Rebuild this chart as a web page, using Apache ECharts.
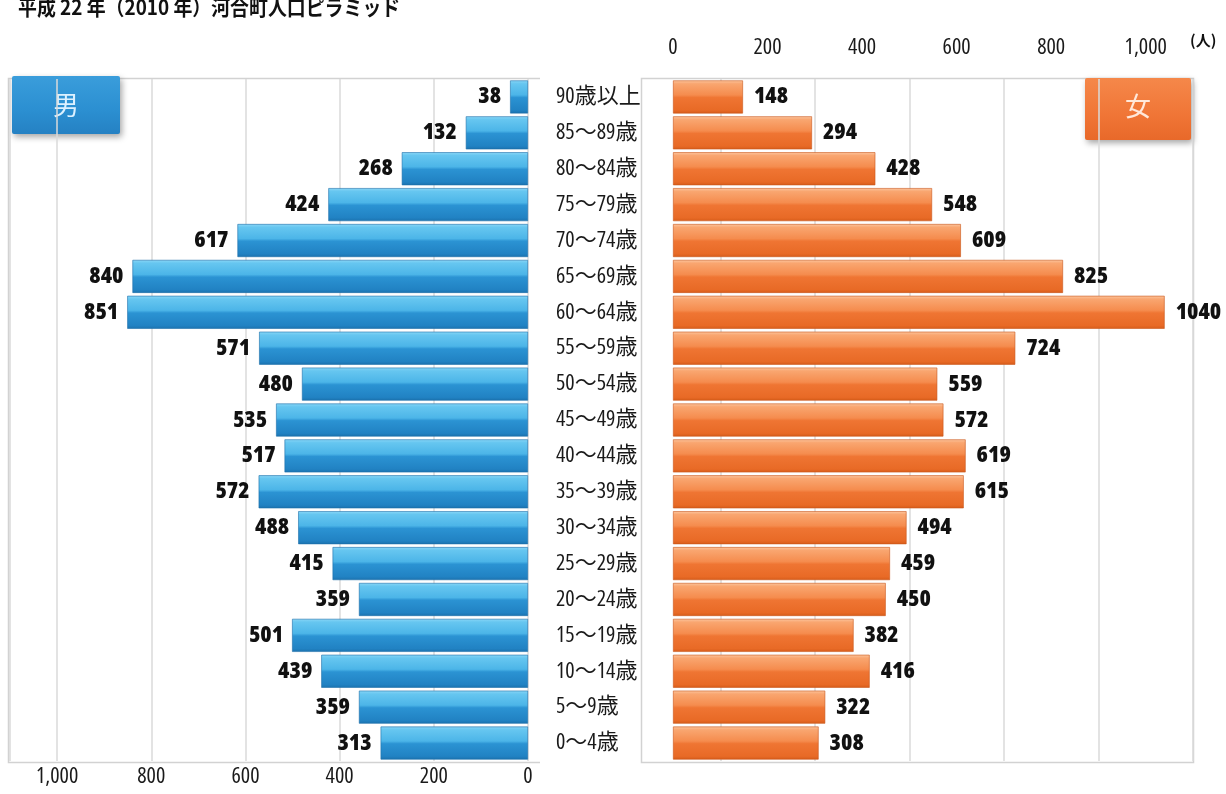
<!DOCTYPE html>
<html>
<head>
<meta charset="utf-8">
<title>河合町人口ピラミッド</title>
<script src="https://cdn.jsdelivr.net/npm/echarts@6/dist/echarts.min.js"></script>
<style>
  html, body { margin: 0; padding: 0; background: #ffffff; }
  #chart { width: 1226px; height: 794px; }
</style>
</head>
<body>
<div id="chart"></div>
<script>
// Age groups, youngest first (drawn bottom to top)
const categories = [
  '0～4歳', '5～9歳', '10～14歳', '15～19歳', '20～24歳', '25～29歳',
  '30～34歳', '35～39歳', '40～44歳', '45～49歳', '50～54歳', '55～59歳',
  '60～64歳', '65～69歳', '70～74歳', '75～79歳', '80～84歳', '85～89歳', '90歳以上'
];
// Population by age group (persons)
const maleValues = [313, 359, 439, 501, 359, 415, 488, 572, 517, 535, 480, 571, 851, 840, 617, 424, 268, 132, 38];
const femaleValues = [308, 322, 416, 382, 450, 459, 494, 615, 619, 572, 559, 724, 1040, 825, 609, 548, 428, 294, 148];
// Axis tick labels
const tickValues = [0, 200, 400, 600, 800, 1000];
const tickTexts = ['0', '200', '400', '600', '800', '1,000'];

const titleText = '平成 22 年（2010 年）河合町人口ピラミッド';
const unitText = '(人)';
const maleName = '男';
const femaleName = '女';

const JP_FONT = "'Noto Sans CJK JP', sans-serif";

// Pick the narrowest installed face for numerals.
function pickNumberFont() {
  const ctx = document.createElement('canvas').getContext('2d');
  const sample = '0123456789';
  const measure = f => { ctx.font = f; return ctx.measureText(sample).width / 1000; };
  const mono = measure('bold 100px monospace');
  const candidates = [
    { family: "'Liberation Sans Narrow'", stretch: '' },
    { family: "'Noto Sans Condensed'", stretch: '' },
    { family: "'Noto Sans SemiCondensed'", stretch: '' },
    { family: "'DejaVu Sans Condensed'", stretch: '' },
    { family: "'Noto Sans'", stretch: 'condensed' },
    { family: "'Open Sans'", stretch: 'condensed' },
    { family: "'Liberation Sans'", stretch: 'condensed' },
    { family: "Roboto", stretch: 'condensed' },
    { family: "'DejaVu Sans'", stretch: 'condensed' }
  ];
  let best = { family: "'Liberation Sans'", stretch: '', em: measure("bold 100px 'Liberation Sans', monospace") };
  for (const c of candidates) {
    const em = measure('bold ' + (c.stretch ? c.stretch + ' ' : '') + '100px ' + c.family + ', monospace');
    if (!c.stretch && Math.abs(em - mono) < 1e-4) continue;
    if (c.stretch) {
      const plain = measure('bold 100px ' + c.family + ', monospace');
      if (Math.abs(plain - mono) < 1e-4 || em >= plain - 1e-4) continue;
    }
    if (em < best.em) best = { family: c.family, stretch: c.stretch, em: em };
  }
  const narrow = best.em <= 0.52;
  return {
    family: best.family + ", 'Noto Sans CJK JP', sans-serif",
    bold: '800' + (best.stretch ? ' ' + best.stretch : ''),
    normal: best.stretch ? best.stretch : 'normal',
    size: narrow ? 22 : Math.max(18, Math.round(10.5 / best.em)),
    valueSize: narrow ? 23 : Math.max(18, Math.round(10.5 / best.em))
  };
}
const NUM = pickNumberFont();

function tickFormatter(v) {
  const i = tickValues.indexOf(v);
  return i >= 0 ? tickTexts[i] : '';
}

function vGrad(stops) {
  return new echarts.graphic.LinearGradient(0, 0, 0, 1,
    stops.map(s => ({ offset: s[0], color: s[1] })));
}

const blueBar = vGrad([[0, '#8ad7f7'], [0.1, '#66c6f0'], [0.44, '#4cb5e8'], [0.52, '#2b93d3'], [0.9, '#2182c3'], [1, '#1b72ae']]);
const orangeBar = vGrad([[0, '#fcc6a0'], [0.1, '#f9a670'], [0.44, '#f58c4e'], [0.52, '#ef7533'], [0.9, '#e86a26'], [1, '#d65c1a']]);

const axisLabelBase = { fontSize: NUM.size, fontFamily: NUM.family, fontWeight: NUM.normal, color: '#1a1a1a' };
const valueLabelBase = { show: true, fontSize: NUM.valueSize, fontWeight: NUM.bold, fontFamily: NUM.family, color: '#111111' };

const chart = echarts.init(document.getElementById('chart'), null, { renderer: 'canvas' });

chart.setOption({
  backgroundColor: '#ffffff',
  animation: false,
  grid: [
    { left: 10, right: 698, top: 79, bottom: 33 },
    { left: 673, right: 33, top: 79, bottom: 33 }
  ],
  xAxis: [
    {
      gridIndex: 0, type: 'value', inverse: true, position: 'bottom',
      min: 0, max: 1100, interval: 200,
      axisLine: { show: false }, axisTick: { show: false },
      splitLine: { show: true, lineStyle: { color: '#dadada', width: 1.5 } },
      axisLabel: Object.assign({ margin: 5, formatter: tickFormatter }, axisLabelBase)
    },
    {
      gridIndex: 1, type: 'value', position: 'top',
      min: 0, max: 1100, interval: 100,
      axisLine: { show: false }, axisTick: { show: false },
      splitLine: { show: true, lineStyle: { color: ['rgba(0,0,0,0)', '#dadada'], width: 1.5 } },
      axisLabel: Object.assign({ margin: 20, formatter: tickFormatter }, axisLabelBase)
    }
  ],
  yAxis: [
    {
      gridIndex: 0, type: 'category', data: categories, position: 'right',
      axisLine: { show: false }, axisTick: { show: false }, splitLine: { show: false },
      axisLabel: { margin: 28, align: 'left', fontSize: NUM.size, fontFamily: NUM.family, fontWeight: NUM.normal, color: '#1a1a1a' }
    },
    {
      gridIndex: 1, type: 'category', data: categories,
      axisLine: { show: false }, axisTick: { show: false }, splitLine: { show: false },
      axisLabel: { show: false }
    }
  ],
  series: [
    {
      name: maleName, type: 'bar', xAxisIndex: 0, yAxisIndex: 0,
      data: maleValues, barCategoryGap: '8%',
      itemStyle: { color: blueBar, borderColor: '#1c6fa9', borderWidth: 0.6 },
      label: Object.assign({ position: 'left', distance: 9 }, valueLabelBase)
    },
    {
      name: femaleName, type: 'bar', xAxisIndex: 1, yAxisIndex: 1,
      data: femaleValues, barCategoryGap: '8%',
      itemStyle: { color: orangeBar, borderColor: '#c9561a', borderWidth: 0.6 },
      label: Object.assign({ position: 'right', distance: 11 }, valueLabelBase)
    }
  ],
  graphic: [
    // panel frames
    {
      type: 'polyline', z: 0, silent: true,
      shape: { points: [[540, 78.5], [8.5, 78.5], [8.5, 762.5], [540, 762.5]] },
      style: { stroke: '#d2d2d2', lineWidth: 1.5, fill: null }
    },
    {
      type: 'rect', z: 0, silent: true,
      shape: { x: 641.5, y: 78.5, width: 552, height: 684 },
      style: { stroke: '#d2d2d2', lineWidth: 1.5, fill: null }
    },
    // title and unit
    {
      type: 'text', x: 18, y: -3, scaleX: 0.9, z: 100,
      style: { text: titleText, font: 'bold 21px ' + JP_FONT, fill: '#111111' }
    },
    {
      type: 'text', left: 1190, top: 33, z: 100,
      style: { text: unitText, font: 'bold 15px ' + JP_FONT, fill: '#111111' }
    },
    // sex labels
    {
      type: 'group', left: 12, top: 76, z: 100,
      children: [
        {
          type: 'rect', shape: { x: 0, y: 0, width: 108, height: 58, r: 2 },
          style: {
            fill: vGrad([[0, '#3a9ddb'], [0.6, '#2b8fd1'], [1, '#2581c3']]),
            shadowBlur: 6, shadowColor: 'rgba(0,0,0,0.35)', shadowOffsetX: 2, shadowOffsetY: 3
          }
        },
        {
          type: 'text', x: 54, y: 29,
          style: { text: maleName, font: '26px ' + JP_FONT, fill: '#dcf1ff', align: 'center', verticalAlign: 'middle' }
        }
      ]
    },
    {
      type: 'group', left: 1085, top: 78, z: 100,
      children: [
        {
          type: 'rect', shape: { x: 0, y: 0, width: 106, height: 62, r: 2 },
          style: {
            fill: vGrad([[0, '#f5884a'], [0.6, '#f07536'], [1, '#e8692a']]),
            shadowBlur: 6, shadowColor: 'rgba(0,0,0,0.35)', shadowOffsetX: 2, shadowOffsetY: 3
          }
        },
        {
          type: 'text', x: 53, y: 28,
          style: { text: femaleName, font: '26px ' + JP_FONT, fill: '#ffe8da', align: 'center', verticalAlign: 'middle' }
        }
      ]
    }
  ]
});
</script>
</body>
</html>
